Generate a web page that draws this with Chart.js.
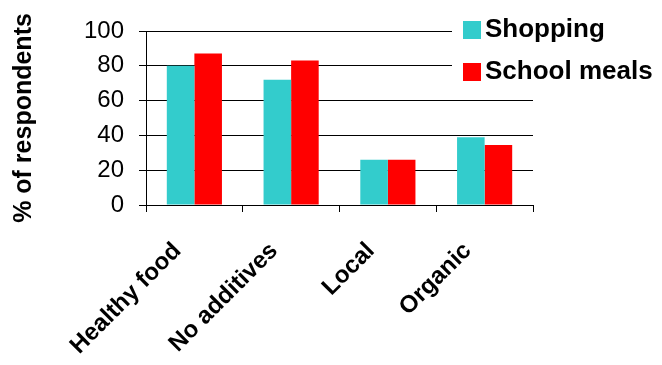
<!DOCTYPE html>
<html>
<head>
<meta charset="utf-8">
<script src="https://cdn.jsdelivr.net/npm/chart.js@4"></script>
<style>
    html, body { margin: 0; padding: 0; background: #fff; }
    #wrap { width: 662px; height: 365px; }
</style>
</head>
<body>
<div id="wrap"><canvas id="foodChart" width="662" height="365"></canvas></div>
<script>
const categories = ['Healthy food', 'No additives', 'Local', 'Organic'];
const shopping = [80, 72, 26, 39];
const schoolMeals = [87, 83, 26, 34.5];
const yTicks = [0, 20, 40, 60, 80, 100];

const FONT = 'Liberation Sans, Arial, sans-serif';

// legend sits on top of the plot with a white backing, like the original
const boxLegend = {
    id: 'boxLegend',
    afterDraw(chart) {
        const ctx = chart.ctx;
        ctx.save();
        ctx.fillStyle = '#fff';
        ctx.fillRect(452, 12, 210, 82);
        ctx.font = 'bold 26px ' + FONT;
        ctx.textBaseline = 'alphabetic';
        chart.data.datasets.forEach((ds, i) => {
            const y = 21 + i * 42;
            ctx.fillStyle = ds.backgroundColor;
            ctx.fillRect(463, y, 18, 18);
            ctx.fillStyle = '#000';
            ctx.fillText(ds.label, 485, y + 16);
        });
        ctx.restore();
    }
};

new Chart(document.getElementById('foodChart').getContext('2d'), {
    type: 'bar',
    data: {
        labels: categories,
        datasets: [
            { label: 'Shopping', data: shopping, backgroundColor: '#33CCCC' },
            { label: 'School meals', data: schoolMeals, backgroundColor: '#FF0000' }
        ]
    },
    options: {
        responsive: false,
        animation: false,
        layout: { padding: { left: 0, top: 31, right: 129, bottom: 0 } },
        datasets: { bar: { categoryPercentage: 0.57, barPercentage: 1.0 } },
        plugins: { legend: { display: false }, tooltip: { enabled: false } },
        scales: {
            x: {
                grid: { drawOnChartArea: false, drawTicks: true, tickLength: 7, color: '#000', offset: true },
                border: { color: '#000', width: 1 },
                ticks: {
                    color: '#000', font: { family: FONT, size: 24, weight: 'bold' },
                    minRotation: 45, maxRotation: 45, padding: 25, labelOffset: -17
                },
                afterFit(scale) { scale.height = 160; }
            },
            y: {
                min: 0, max: 100,
                afterBuildTicks(scale) { scale.ticks = yTicks.map(v => ({ value: v })); },
                grid: { color: '#000', tickLength: 7 },
                border: { color: '#000', width: 1 },
                ticks: { color: '#000', font: { family: FONT, size: 24 }, padding: 15 },
                title: {
                    display: true, text: '% of respondents', color: '#000',
                    font: { family: FONT, size: 25, weight: 'bold' },
                    padding: { top: 9, bottom: 0 }
                },
                afterFit(scale) { scale.width = 146; }
            }
        }
    },
    plugins: [boxLegend]
});
</script>
</body>
</html>
